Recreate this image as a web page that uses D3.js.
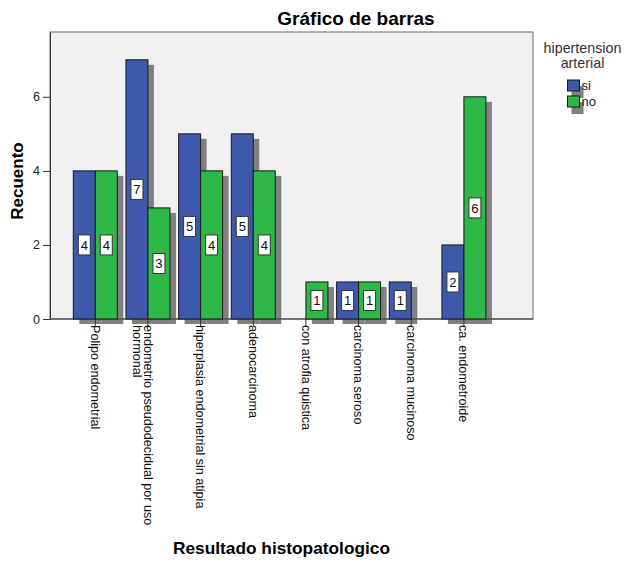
<!DOCTYPE html>
<html>
<head>
<meta charset="utf-8">
<script src="https://cdn.jsdelivr.net/npm/d3@7"></script>
<style>
  body { margin: 0; background: #fff; }
  text { font-family: Arial, "Liberation Sans", sans-serif; }
</style>
</head>
<body>
<div id="chart"></div>
<script>
// data
const categories = [
  ["Polipo endometrial"],
  ["endometrio pseudodecidual por uso", "hormonal"],
  ["hiperplasia endometrial sin atipia"],
  ["adenocarcinoma"],
  ["con atrofia quistica"],
  ["carcinoma seroso"],
  ["carcinoma mucinoso"],
  ["ca. endometroide"]
];
const groups = ["si", "no"];
const siValues = [4, 7, 5, 5, 0, 1, 1, 2];
const noValues = [4, 3, 4, 4, 1, 1, 0, 6];
const yTicks = [0, 2, 4, 6];
const colors = { si: "#3E58AC", no: "#2EB848" };

const W = 624, H = 561;
const plot = { left: 50, top: 32, right: 533, bottom: 319 };

const svg = d3.select("#chart").append("svg")
  .attr("width", W).attr("height", H);

const keys = categories.map((c, i) => i);
const x0 = d3.scaleBand()
  .domain(keys)
  .range([73.3, 485.9])
  .paddingInner(0.165)
  .paddingOuter(0);
const x1 = d3.scaleBand()
  .domain(groups)
  .range([0, x0.bandwidth()]);
const y = d3.scaleLinear()
  .domain([0, 7.75])
  .range([plot.bottom, plot.top]);

// plot background
svg.append("rect")
  .attr("x", plot.left).attr("y", plot.top)
  .attr("width", plot.right - plot.left)
  .attr("height", plot.bottom - plot.top)
  .attr("fill", "#F0F0F0")
  .attr("stroke", "#6b6b6b")
  .attr("stroke-width", 1);

const bars = [];
keys.forEach(i => {
  bars.push({ cat: i, g: "si", v: siValues[i] });
  bars.push({ cat: i, g: "no", v: noValues[i] });
});
const shown = bars.filter(d => d.v > 0);

// shadows
svg.append("g").selectAll("rect")
  .data(shown)
  .enter().append("rect")
  .attr("x", d => x0(d.cat) + x1(d.g) + 6)
  .attr("y", d => y(d.v) + 5)
  .attr("width", x1.bandwidth())
  .attr("height", d => y(0) - y(d.v))
  .attr("fill", "#808080");

// y axis
const yAxis = svg.append("g")
  .attr("transform", "translate(" + plot.left + ",0)")
  .call(d3.axisLeft(y).tickValues(yTicks).tickSize(7).tickSizeOuter(0).tickPadding(3).tickFormat(d3.format("d")));
yAxis.select(".domain").attr("stroke", "#333");
yAxis.selectAll(".tick line").attr("stroke", "#333");
yAxis.selectAll("text").attr("font-size", 12.5).attr("fill", "#222")
  .style("font-family", "Arial, 'Liberation Sans', sans-serif");

// x axis
const xAxis = svg.append("g")
  .attr("transform", "translate(0," + plot.bottom + ")")
  .call(d3.axisBottom(x0).tickSize(8).tickSizeOuter(0).tickFormat(""));
xAxis.select(".domain").remove();
xAxis.selectAll(".tick line").attr("stroke", "#333");
svg.append("line")
  .attr("x1", plot.left).attr("x2", plot.right)
  .attr("y1", plot.bottom).attr("y2", plot.bottom)
  .attr("stroke", "#333");

// bars
svg.append("g").selectAll("rect")
  .data(shown)
  .enter().append("rect")
  .attr("x", d => x0(d.cat) + x1(d.g))
  .attr("y", d => y(d.v))
  .attr("width", x1.bandwidth())
  .attr("height", d => y(0) - y(d.v))
  .attr("fill", d => colors[d.g])
  .attr("stroke", "#1a1a1a")
  .attr("stroke-width", 1);

// value labels
const lab = svg.append("g").selectAll("g")
  .data(shown)
  .enter().append("g")
  .attr("transform", d => "translate(" + (x0(d.cat) + x1(d.g) + x1.bandwidth() / 2) + "," + y(d.v / 2) + ")");
lab.append("rect")
  .attr("x", -6).attr("y", -10)
  .attr("width", 12).attr("height", 20)
  .attr("fill", "#fff")
  .attr("stroke", "#333");
lab.append("text")
  .attr("text-anchor", "middle")
  .attr("dy", "0.36em")
  .attr("font-size", 13)
  .attr("fill", "#111")
  .text(d => d.v);

// category labels, rotated
const catLab = svg.append("g").selectAll("text")
  .data(keys)
  .enter().append("text")
  .attr("transform", d => "translate(" + (x0(d) + x0.bandwidth() / 2) + "," + (plot.bottom + 6) + ") rotate(90)")
  .attr("font-size", 12.6)
  .attr("fill", "#111");
catLab.selectAll("tspan")
  .data(d => categories[d])
  .enter().append("tspan")
  .attr("x", 0)
  .attr("y", (d, i) => i * 11)
  .attr("dy", "0.35em")
  .text(d => d);

// titles
svg.append("text")
  .attr("x", 356).attr("y", 25)
  .attr("text-anchor", "middle")
  .attr("font-size", 19).attr("font-weight", "bold")
  .text("Gráfico de barras");

svg.append("text")
  .attr("transform", "translate(23,181) rotate(-90)")
  .attr("text-anchor", "middle")
  .attr("font-size", 17).attr("font-weight", "bold")
  .text("Recuento");

svg.append("text")
  .attr("x", 281.5).attr("y", 554)
  .attr("text-anchor", "middle")
  .attr("font-size", 17.3).attr("font-weight", "bold")
  .text("Resultado histopatologico");

// legend
const legend = svg.append("g");
legend.append("text")
  .attr("x", 582.5).attr("y", 52.5)
  .attr("text-anchor", "middle")
  .attr("font-size", 14.3).attr("fill", "#333")
  .text("hipertension");
legend.append("text")
  .attr("x", 582.5).attr("y", 67.5)
  .attr("text-anchor", "middle")
  .attr("font-size", 14.3).attr("fill", "#333")
  .text("arterial");

const li = legend.selectAll(".item")
  .data(groups)
  .enter().append("g")
  .attr("class", "item")
  .attr("transform", (d, i) => "translate(567.5," + (80 + i * 16) + ")");
li.append("rect")
  .attr("x", 4).attr("y", 6)
  .attr("width", 12).attr("height", 12)
  .attr("fill", "#808080");
li.append("rect")
  .attr("width", 12).attr("height", 11)
  .attr("fill", d => colors[d])
  .attr("stroke", "#1a1a1a");
li.append("text")
  .attr("x", 14).attr("y", 10)
  .attr("font-size", 13).attr("fill", "#222")
  .text(d => d);
</script>
</body>
</html>
